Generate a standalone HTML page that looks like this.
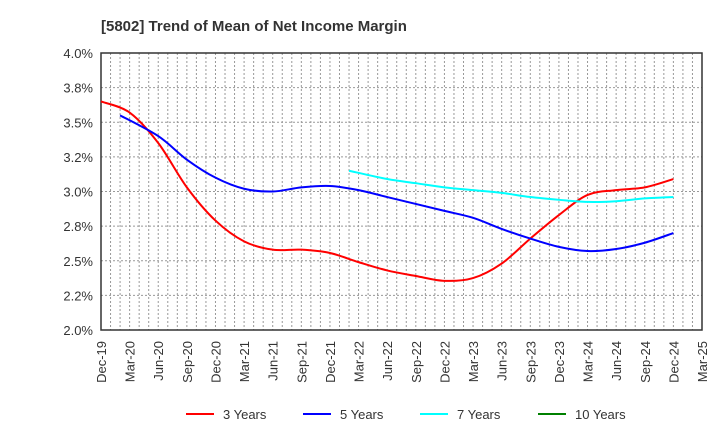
<!DOCTYPE html>
<html><head><meta charset="utf-8"><style>
body{margin:0;background:#fff;font-family:"Liberation Sans",sans-serif;}
</style></head><body>
<svg id="chart" width="720" height="440" xmlns="http://www.w3.org/2000/svg">
<text x="101" y="31" font-size="15" font-weight="bold" fill="#333">[5802]  Trend of Mean of Net Income Margin</text>
<g id="grid"></g>
<g id="axes"></g>
<g id="series"></g>
<g id="legend"></g>
</svg>
<script>
const xLabels=["Dec-19","Mar-20","Jun-20","Sep-20","Dec-20","Mar-21","Jun-21","Sep-21","Dec-21","Mar-22","Jun-22","Sep-22","Dec-22","Mar-23","Jun-23","Sep-23","Dec-23","Mar-24","Jun-24","Sep-24","Dec-24","Mar-25"];
const yTicks=[2.0,2.25,2.5,2.75,3.0,3.25,3.5,3.75,4.0];
const yTickLabels=["2.0%","2.2%","2.5%","2.8%","3.0%","3.2%","3.5%","3.8%","4.0%"];
const seriesNames=["3 Years","5 Years","7 Years","10 Years"];
const seriesColors=["#ff0000","#0000ff","#00ffff","#008000"];
const months3=[0,3,6,9,12,15,18,21,24,27,30,33,36,39,42,45,48,51,54,57,60];
const values3=[3.65,3.57,3.35,3.03,2.79,2.64,2.58,2.58,2.556,2.49,2.43,2.39,2.355,2.375,2.48,2.66,2.83,2.975,3.01,3.03,3.09];
const months5=[2,6,9,12,15,18,21,24,27,30,33,36,39,42,45,48,51,54,57,60];
const values5=[3.55,3.40,3.23,3.10,3.02,3.00,3.03,3.04,3.01,2.96,2.91,2.86,2.81,2.73,2.66,2.60,2.57,2.585,2.63,2.70];
const months7=[26,30,33,36,39,42,45,48,51,54,57,60];
const values7=[3.15,3.09,3.06,3.03,3.01,2.99,2.96,2.94,2.925,2.93,2.95,2.96];
const months10=[];
const values10=[];

const NS="http://www.w3.org/2000/svg";
const L=101,R=702,T=53,B=330,NM=63;
const xS=m=>L+(R-L)*m/NM;
const yS=v=>B-(v-2)/2*(B-T);
function mk(tag,attrs,parent){const e=document.createElementNS(NS,tag);for(const k in attrs)e.setAttribute(k,attrs[k]);parent.appendChild(e);return e;}
const grid=document.getElementById('grid'),axes=document.getElementById('axes'),ser=document.getElementById('series'),leg=document.getElementById('legend');
for(let m=1;m<NM;m++){const l=mk('line',{x1:xS(m),x2:xS(m),y1:T,y2:B,stroke:'#999','stroke-dasharray':'2,2','stroke-width':1},grid);

}
yTicks.forEach((v,i)=>{
 if(i>0&&i<yTicks.length-1){const l=mk('line',{x1:L,x2:R,y1:yS(v),y2:yS(v),stroke:'#999','stroke-dasharray':'2,2','stroke-width':1},grid);
 
 }
 const t=mk('text',{x:93,y:yS(v)+5,'text-anchor':'end','font-size':13,fill:'#333'},axes);t.textContent=yTickLabels[i];
 
 
});
xLabels.forEach((s,i)=>{const x=xS(i*3);
 const t=mk('text',{x:0,y:0,'text-anchor':'end','font-size':13,fill:'#333',transform:`translate(${x+5},${B+11}) rotate(-90)`},axes);t.textContent=s;
 
 
});
const fr=mk('rect',{x:L,y:T,width:R-L,height:B-T,fill:'none',stroke:'#333','stroke-width':1.5},axes);


function smooth(pts){if(!pts.length)return'';let d=`M${pts[0][0]},${pts[0][1]}`;
 for(let i=0;i<pts.length-1;i++){const p0=pts[Math.max(0,i-1)],p1=pts[i],p2=pts[i+1],p3=pts[Math.min(pts.length-1,i+2)];
 d+=` C${p1[0]+(p2[0]-p0[0])/6},${p1[1]+(p2[1]-p0[1])/6} ${p2[0]-(p3[0]-p1[0])/6},${p2[1]-(p3[1]-p1[1])/6} ${p2[0]},${p2[1]}`;}return d;}
const all=[[months3,values3],[months5,values5],[months7,values7],[months10,values10]];
all.forEach(([ms,vs],k)=>{if(!ms.length)return;
 const p=mk('path',{d:smooth(ms.map((m,i)=>[xS(m),yS(vs[i])])),fill:'none',stroke:seriesColors[k],'stroke-width':2},ser);
 
 
});
const lx=[186,303,420,538];
seriesNames.forEach((n,k)=>{
 const l=mk('line',{x1:lx[k],x2:lx[k]+28,y1:414,y2:414,stroke:seriesColors[k],'stroke-width':2},leg);
 
 
 const t=mk('text',{x:lx[k]+37,y:419,'font-size':13,fill:'#333'},leg);t.textContent=n;
 
 
});
</script>
</body></html>
